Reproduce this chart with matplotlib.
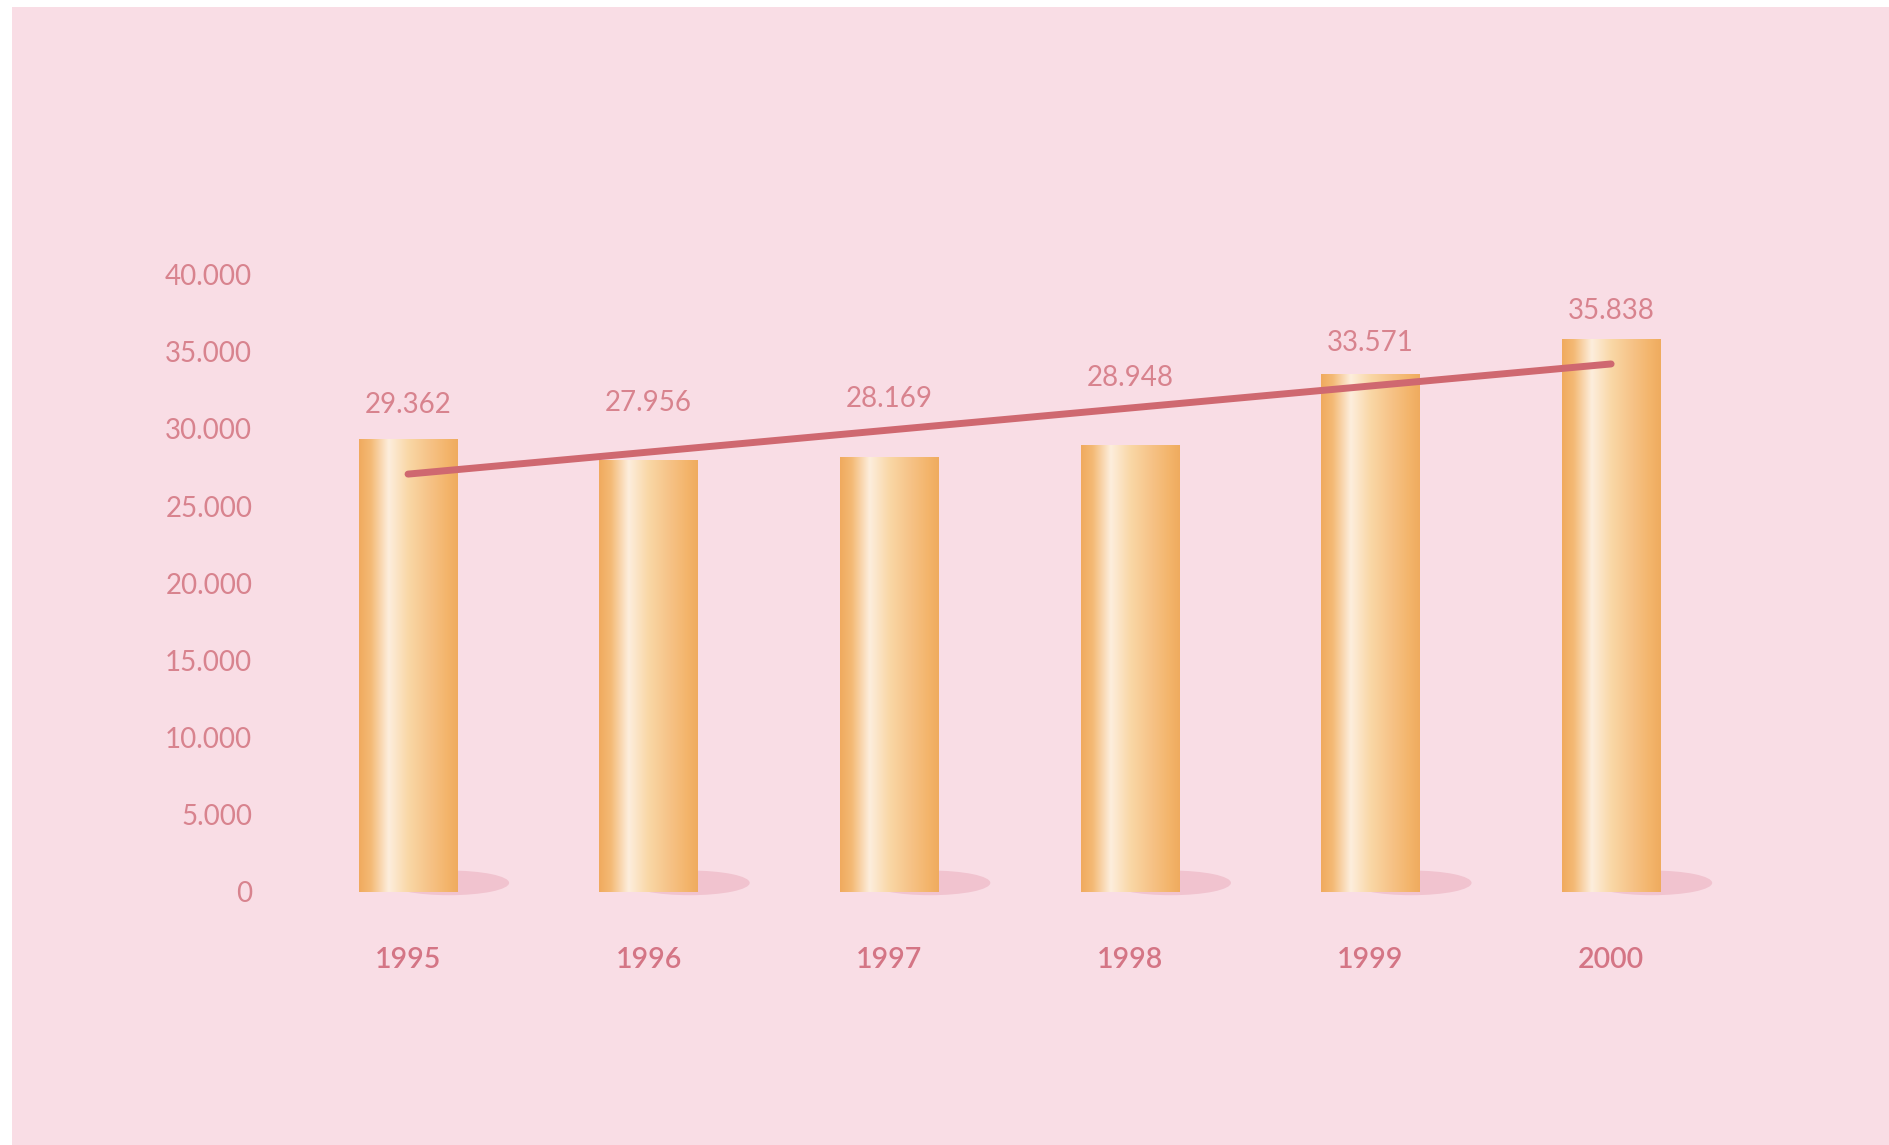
import matplotlib.pyplot as plt
import numpy as np
from matplotlib.colors import LinearSegmentedColormap
from matplotlib.patches import Ellipse, Rectangle

# Données
annees = ['1995', '1996', '1997', '1998', '1999', '2000']
valeurs = [29362, 27956, 28169, 28948, 33571, 35838]
graduations = [0, 5000, 10000, 15000, 20000, 25000, 30000, 35000, 40000]
etiquettes_axe = ['0', '5.000', '10.000', '15.000', '20.000', '25.000',
                  '30.000', '35.000', '40.000']

# décalage des étiquettes de valeur au-dessus des barres (points)
decalage_etiq = [24, 41, 42, 48, 22, 20]

rose_fond = '#f9dde5'
rose_texte = '#d8838e'
rose_annees = '#d47585'
rouge_ligne = '#cf6870'
ombre = '#f1c3cf'

fig = plt.figure(figsize=(18.89, 11.45), dpi=100)
fig.patch.set_facecolor('white')
fig.patches.append(Rectangle((12 / 1889, 0), 1 - 12 / 1889, 1 - 7 / 1145,
                             transform=fig.transFigure, facecolor=rose_fond,
                             edgecolor='none', zorder=-1))

# axes placé en pixels : gauche 262, droite 1800, bas 935, haut 100
ax = fig.add_axes([262 / 1889, (1145 - 935) / 1145,
                   (1800 - 262) / 1889, (935 - 100) / 1145])
ax.set_facecolor('none')

x = np.arange(len(annees))
largeur = 0.41

# dégradé horizontal des barres (effet cylindre)
cmap = LinearSegmentedColormap.from_list('cyl', [
    (0.0, '#f0aa5e'), (0.12, '#f4ba76'), (0.3, '#fdeedd'),
    (0.5, '#f9d7a6'), (0.72, '#f6c286'), (0.9, '#f3b46a'), (1.0, '#efab5f')])
grad = cmap(np.linspace(0, 1, 256))[np.newaxis, :, :3]

for xi, v in zip(x, valeurs):
    ax.add_patch(Ellipse((xi + 0.17, 560), 0.5, 1600, facecolor=ombre,
                         edgecolor='none', zorder=1))
    ax.imshow(grad, extent=[xi - largeur / 2, xi + largeur / 2, 0, v],
              aspect='auto', interpolation='bicubic', zorder=2)

# droite de tendance (moindres carrés)
pente, origine = np.polyfit(x, valeurs, 1)
ax.plot(x, origine + pente * x, color=rouge_ligne, lw=5,
        solid_capstyle='round', zorder=3)

for xi, v, d in zip(x, valeurs, decalage_etiq):
    ax.annotate(f'{v / 1000:.3f}', xy=(xi, v), xytext=(0, d),
                textcoords='offset points', ha='center', va='center',
                fontsize=20, color=rose_texte, family='Lato',
                fontweight='normal', zorder=4)

ax.set_xlim(-0.607, 5.785)
ax.set_ylim(-2821, 51330)
ax.set_yticks(graduations)
ax.set_yticklabels(etiquettes_axe, family='Lato', fontweight='normal',
                   fontsize=20, color=rose_texte)
ax.set_xticks(x)
ax.set_xticklabels(annees, family='Lato', fontweight='semibold',
                   fontsize=20.5, color=rose_annees)
ax.tick_params(axis='y', length=0, pad=7)
ax.tick_params(axis='x', length=0, pad=9)
for s in ax.spines.values():
    s.set_visible(False)

fig.savefig('out.png', dpi=100)
